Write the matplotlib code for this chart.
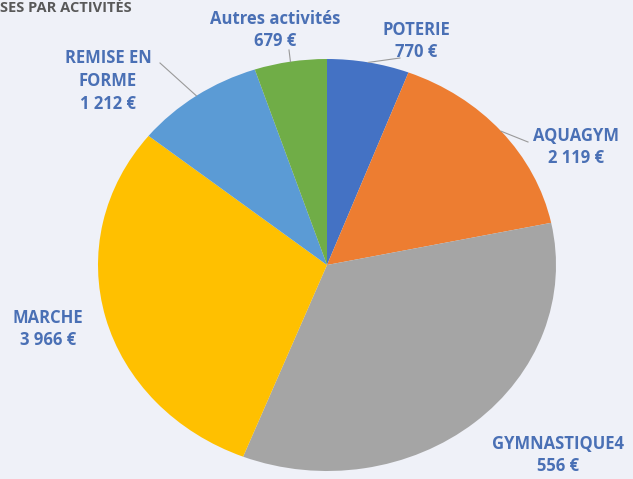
import numpy as np
import matplotlib.pyplot as plt

# Dépenses par activités (en €)
categories = ['POTERIE', 'AQUAGYM', 'GYMNASTIQUE', 'MARCHE', 'REMISE EN FORME', 'Autres activités']
values = [770, 2119, 4556, 3966, 1212, 679]
labels = ['POTERIE\n770 €', 'AQUAGYM\n2 119 €', 'GYMNASTIQUE4\n556 €',
          'MARCHE\n3 966 €', 'REMISE EN\nFORME\n1 212 €', 'Autres activités\n679 €']
colors = ['#4472C4', '#ED7D31', '#A5A5A5', '#FFC000', '#5B9BD5', '#70AD47']

W, H = 633, 479
bg = '#EFF1F8'
txt_color = '#4A70B5'
font = ['Open Sans', 'DejaVu Sans']

# position des étiquettes (pixels, origine en haut à gauche)
label_pos = [(416, 41), (576, 147), (558, 455), (48, 329), (108, 81), (275, 30)]
# point de départ des lignes de rappel (None = pas de ligne)
leader_start = [(400, 58), (528, 142), None, None, (160, 63), (289, 50)]

# centre et rayons de la tarte (l'image d'origine est étirée)
cx, cy, rx, ry = 327, 265, 229, 206

fig = plt.figure(figsize=(W / 100, H / 100), dpi=100, facecolor=bg)
ax = fig.add_axes([0, 0, 1, 1], facecolor=bg)

wedges, _ = ax.pie(values, colors=colors, startangle=90, counterclock=False,
                   wedgeprops=dict(linewidth=0))
ax.set_aspect('auto')
ax.set_xlim(-cx / rx, (W - cx) / rx)
ax.set_ylim(-(H - cy) / ry, cy / ry)
ax.axis('off')


def px_to_data(px, py):
    return (px - cx) / rx, (cy - py) / ry


for w, lab, (px, py), start in zip(wedges, labels, label_pos, leader_start):
    x, y = px_to_data(px, py)
    ax.text(x, y, lab, ha='center', va='center', color=txt_color,
            fontsize=12, fontweight='bold', family=font, linespacing=1.35)
    if start is not None:
        mid = np.deg2rad((w.theta1 + w.theta2) / 2)
        sx, sy = px_to_data(*start)
        ax.plot([sx, np.cos(mid)], [sy, np.sin(mid)], color='#9A9A9A', lw=0.8)

fig.text(0.0, 1 - 8 / H, 'SES PAR ACTIVITÉS', ha='left', va='center',
         color='#595959', fontsize=10.5, fontweight='bold', family=font)

fig.savefig('out.png', dpi=100, facecolor=bg)
